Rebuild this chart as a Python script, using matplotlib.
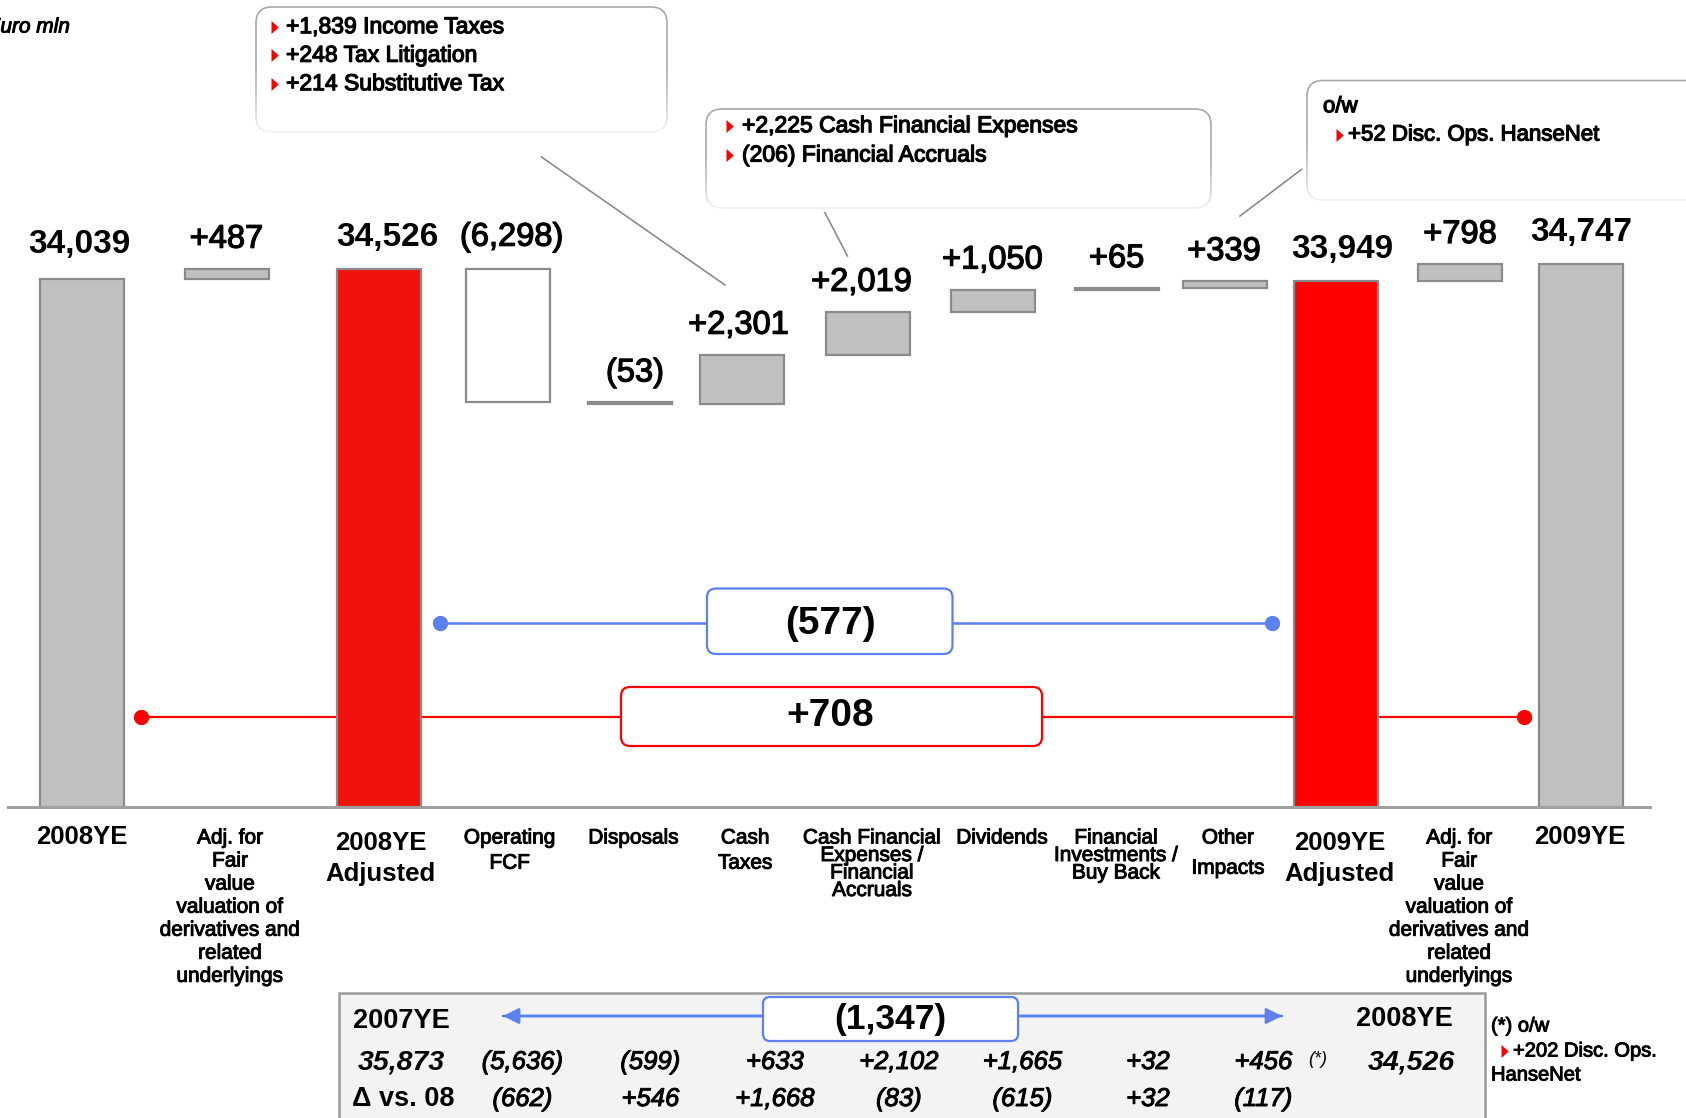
import matplotlib
matplotlib.use("Agg")
import matplotlib.pyplot as plt
import matplotlib.patheffects as pe
from matplotlib.patches import FancyBboxPatch, Rectangle
import numpy as np

plt.rcParams['font.family'] = ['Liberation Sans', 'DejaVu Sans']

# ---------------- data (Euro mln) ----------------
categories = [
    "2008YE",
    "Adj. for\nFair\nvalue\nvaluation of\nderivatives and\nrelated\nunderlyings",
    "2008YE\nAdjusted",
    "Operating\nFCF",
    "Disposals",
    "Cash\nTaxes",
    "Cash Financial\nExpenses /\nFinancial\nAccruals",
    "Dividends",
    "Financial\nInvestments /\nBuy Back",
    "Other\nImpacts",
    "2009YE\nAdjusted",
    "Adj. for\nFair\nvalue\nvaluation of\nderivatives and\nrelated\nunderlyings",
    "2009YE",
]
values = [34039, 487, 34526, -6298, -53, 2301, 2019, 1050, 65, 339, 33949, 798, 34747]
is_total = [True, False, True, False, False, False, False, False, False, False, True, False, True]

taxes_detail = ["+1,839 Income Taxes", "+248 Tax Litigation", "+214 Substitutive Tax"]
financial_detail = ["+2,225 Cash Financial Expenses", "(206) Financial Accruals"]
other_detail = ["+52 Disc. Ops. HanseNet"]

# previous year bridge (2007YE -> 2008YE)
prev_start = 35873
prev_moves = [-5636, -599, 633, 2102, 1665, 32, 456]
prev_end = 34526
delta_vs_08 = [-662, 546, 1668, -83, -615, 32, -117]
prev_note = "+202 Disc. Ops."

# ---------------- layout ----------------
W, H = 1686, 1118
slot_x = [81.5, 226.5, 379, 507.5, 630, 741.5, 867.5, 992.5, 1116.6, 1225, 1336, 1460, 1580.5]
label_x = [81.7, 230, 380.7, 509.7, 633.4, 745.2, 872, 1002.2, 1116.2, 1228, 1339.8, 1459.2, 1579.6]
value_dx = [-2, 0, 8, 4, 5, -3, -6, 0, 0, -1, 6, 0, 1]
value_dy = [26, 21, 23, 23, 21, 21, 21, 21, 21, 21, 23, 21, 23]
label_ls = [1.2, 1.27, 1.37, 1.41, 1.2, 1.41, 0.9, 1.2, 0.9, 1.75, 1.37, 1.27, 1.2]
bar_w = 84
floor_val = 9172
per_px = 47.1
base_px = 807

GREY = '#c0c0c0'
EDGE = '#8a8a8a'
RED1 = '#f2120c'
RED2 = '#ff0000'
BLUE = '#5b80f2'

face = [GREY, GREY, RED1, 'white', GREY, GREY, GREY, GREY, GREY, GREY, RED2, GREY, GREY]

MED = [pe.withStroke(linewidth=0.9, foreground='black')]
MED_S = [pe.withStroke(linewidth=0.7, foreground='black')]


def fmt_delta(v):
    return f"({abs(v):,})" if v < 0 else f"+{v:,}"


fig = plt.figure(figsize=(W / 100, H / 100), dpi=100)

# overlay in pixel coordinates (y downwards) for text and annotations
ov = fig.add_axes([0, 0, 1, 1], zorder=0)
ov.set_axis_off()

# bar axes
ax = fig.add_axes([0, 1 - base_px / H, 1, base_px / H], zorder=1)
ax.patch.set_alpha(0)
ax.set_axis_off()
ax.set_xlim(0, W)
ax.set_ylim(floor_val, floor_val + base_px * per_px)

# ---------------- waterfall ----------------
bottoms, heights = [], []
level = 0
for v, tot in zip(values, is_total):
    if tot:
        bottoms.append(floor_val)
        heights.append(v - floor_val)
        level = v
    else:
        bottoms.append(level)
        heights.append(v)
        level += v

ax.bar(slot_x, heights, bottom=bottoms, width=bar_w, color=face,
       edgecolor=EDGE, linewidth=1.6, zorder=3)

for x, b, h, v, tot, dx, dy in zip(slot_x, bottoms, heights, values, is_total, value_dx, value_dy):
    top = max(b, b + h)
    if tot:
        ax.annotate(f"{v:,}", (x, top), xytext=(dx, dy), textcoords='offset pixels',
                    ha='center', va='baseline', fontsize=24, fontweight='bold')
    else:
        ax.annotate(fmt_delta(v), (x, top), xytext=(dx, dy), textcoords='offset pixels',
                    ha='center', va='baseline', fontsize=23.5, path_effects=MED)

ax.plot([8, 1650], [floor_val, floor_val], color='#a0a0a0', lw=2.2, clip_on=False, zorder=4)

# ---------------- category labels ----------------
for x, lab, tot, ls in zip(label_x, categories, is_total, label_ls):
    if tot:
        top = 830.5 if "\n" in lab else 825.5
        ov.text(x, top, lab, ha='center', va='top', fontsize=18.5, fontweight='bold',
                linespacing=ls, multialignment='center')
    else:
        ov.text(x, 828.5, lab, ha='center', va='top', fontsize=15,
                linespacing=ls, multialignment='center', path_effects=MED_S)

# ---------------- change spans ----------------
chg_adj = values[10] - values[2]
chg_rep = values[12] - values[0]

ov.plot([440, 1272], [623, 623], color=BLUE, lw=1.8, zorder=1)
ov.plot([440, 1272], [623, 623], 'o', color=BLUE, ms=10, zorder=1)
ov.add_patch(FancyBboxPatch((707, 588.5), 245.5, 65.5, boxstyle="round,pad=0,rounding_size=9",
                            fc='white', ec=BLUE, lw=1.6, zorder=2))
ov.text(830, 624, fmt_delta(chg_adj), ha='center', va='center', fontsize=28, fontweight='bold', zorder=3)

ov.plot([141, 1524], [717, 717], color=RED2, lw=1.6, zorder=1)
ov.plot([141, 1524], [717, 717], 'o', color=RED2, ms=10, zorder=1)
ov.add_patch(FancyBboxPatch((621, 687), 421, 59, boxstyle="round,pad=0,rounding_size=9",
                            fc='white', ec=RED2, lw=1.6, zorder=2))
ov.text(830, 716, fmt_delta(chg_rep), ha='center', va='center', fontsize=28, fontweight='bold', zorder=3)

# ---------------- callouts ----------------
TRI = [(0, -1), (1.1, 0), (0, 1)]


def bullet(x, y):
    ov.plot([x], [y], marker=TRI, ms=10.3, color='#ff0000', mew=0, ls='none', zorder=5)


def callout(x0, y0, x1, y1):
    ov.add_patch(FancyBboxPatch((x0, y0), x1 - x0, y1 - y0,
                                boxstyle="round,pad=0,rounding_size=16",
                                fc='white', ec='#a8a8a8', lw=1.2, zorder=2))
    grad = np.ones((64, 1, 4))
    grad[:, 0, 3] = np.linspace(0, 0.92, 64) ** 1.3
    ymid = y0 + 0.45 * (y1 - y0)
    ov.imshow(grad, extent=(x0 - 4, x1 + 4, y1 + 4, ymid), aspect='auto',
              interpolation='bilinear', zorder=3)


callout(256, 7, 667, 132)
for i, t in enumerate(taxes_detail):
    y = 26.7 + i * 28.5
    bullet(271, y)
    ov.text(286, y, t, ha='left', va='center', fontsize=16.5, path_effects=MED, zorder=6)
ov.plot([541.5, 725], [157, 285], color='#8c8c8c', lw=1.2, zorder=1)

callout(706, 109, 1211, 208)
for i, t in enumerate(financial_detail):
    y = 125.7 + i * 29.3
    bullet(726, y)
    ov.text(742, y, t, ha='left', va='center', fontsize=16.5, path_effects=MED, zorder=6)
ov.plot([823, 847.5], [209, 256], color='#8c8c8c', lw=1.2, zorder=1)

callout(1307, 80.5, 1740, 200)
ov.text(1323, 106.7, "o/w", ha='left', va='center', fontsize=16, path_effects=MED, zorder=6)
for t in other_detail:
    bullet(1336, 135)
    ov.text(1348, 135, t, ha='left', va='center', fontsize=16, path_effects=MED, zorder=6)
ov.plot([1301.7, 1240], [169.3, 216], color='#8c8c8c', lw=1.2, zorder=1)

ov.text(70, 27, "Euro mln", ha='right', va='center', fontsize=15, style='italic',
        path_effects=MED_S)

# ---------------- previous year bridge box ----------------
ov.add_patch(Rectangle((339, 993), 1146, 140, fc='#f3f3f3', ec='#9a9a9a', lw=1.8, zorder=1))
ov.text(353, 1021, "2007YE", ha='left', va='center', fontsize=19.5, fontweight='bold', zorder=3)
ov.text(1453, 1019, "2008YE", ha='right', va='center', fontsize=19.5, fontweight='bold', zorder=3)
ov.annotate('', xy=(503, 1016), xytext=(1282, 1016),
            arrowprops=dict(arrowstyle='-|>', color=BLUE, lw=1.8, mutation_scale=24,
                            shrinkA=0, shrinkB=0), zorder=2)
ov.annotate('', xy=(1282, 1016), xytext=(503, 1016),
            arrowprops=dict(arrowstyle='-|>', color=BLUE, lw=1.8, mutation_scale=24,
                            shrinkA=0, shrinkB=0), zorder=2)
ov.add_patch(FancyBboxPatch((763, 997), 255, 44, boxstyle="round,pad=0,rounding_size=7",
                            fc='white', ec=BLUE, lw=1.6, zorder=3))
ov.text(890, 1020, fmt_delta(prev_end - prev_start), ha='center', va='center',
        fontsize=25.5, fontweight='bold', zorder=4)

col_x = [522.6, 650.5, 775, 899, 1022.6, 1148, 1263.5]
ov.text(401, 1062, f"{prev_start:,}", ha='center', va='center', fontsize=20.5,
        fontweight='bold', style='italic', zorder=3)
ov.text(1411, 1062, f"{prev_end:,}", ha='center', va='center', fontsize=20.5,
        fontweight='bold', style='italic', zorder=3)
for x, v in zip(col_x, prev_moves):
    ov.text(x, 1062, fmt_delta(v), ha='center', va='center', fontsize=18.5,
            style='italic', path_effects=MED_S, zorder=3)
ov.text(1318, 1059, "(*)", ha='center', va='center', fontsize=13, style='italic', zorder=3)

ov.text(352, 1099, "Δ vs. 08", ha='left', va='center', fontsize=19.5, fontweight='bold', zorder=3)
for x, v in zip(col_x, delta_vs_08):
    ov.text(x, 1099, fmt_delta(v), ha='center', va='center', fontsize=18.5,
            style='italic', path_effects=MED_S, zorder=3)

# footnote for the previous year bridge
ov.text(1491, 1026, "(*) o/w", ha='left', va='center', fontsize=14.5, path_effects=MED_S)
bullet(1501, 1051)
ov.text(1513, 1051, prev_note, ha='left', va='center', fontsize=14.5, path_effects=MED_S)
ov.text(1491, 1075, "HanseNet", ha='left', va='center', fontsize=14.5, path_effects=MED_S)

ov.set_xlim(0, W)
ov.set_ylim(H, 0)

fig.savefig("out.png", dpi=100)
